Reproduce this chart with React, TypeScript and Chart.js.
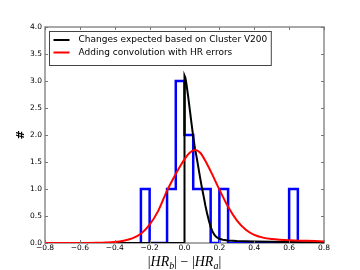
import React, { useEffect, useRef } from "react";
import { Chart, registerables } from "chart.js";

Chart.register(...registerables);

// Histogram (step outline): bin edges and counts
const histEdges = [-0.25, -0.2, -0.15, -0.1, -0.05, 0, 0.05, 0.1, 0.15, 0.2, 0.25, 0.3, 0.35, 0.4, 0.45, 0.5, 0.55, 0.6, 0.65];
const histCounts = [1, 0, 0, 1, 3, 2, 1, 1, 0, 1, 0, 0, 0, 0, 0, 0, 0, 1];

// Black curve: changes expected based on Cluster V200
const blackX = [-0.8, -0.4, 0, 0, 0.005, 0.01, 0.02, 0.03, 0.04, 0.05, 0.06, 0.07, 0.08, 0.09, 0.1, 0.11, 0.12, 0.13, 0.14, 0.15, 0.16, 0.17, 0.18, 0.19, 0.2, 0.22, 0.25, 0.3, 0.4, 0.5, 0.6, 0.7, 0.8];
const blackY = [0, 0, 0, 3.1, 3.06, 2.97, 2.74, 2.48, 2.22, 1.97, 1.75, 1.58, 1.39, 1.2, 1.02, 0.86, 0.69, 0.54, 0.41, 0.3, 0.22, 0.16, 0.12, 0.095, 0.078, 0.06, 0.045, 0.035, 0.026, 0.021, 0.017, 0.014, 0.012];

// Red curve: adding convolution with HR errors
const redX = [-0.8, -0.6, -0.5, -0.45, -0.4, -0.35, -0.3, -0.25, -0.2, -0.15, -0.1, -0.05, -0.02, 0, 0.03, 0.06, 0.09, 0.12, 0.15, 0.2, 0.25, 0.3, 0.35, 0.4, 0.45, 0.5, 0.6, 0.7, 0.8];
const redY = [0, 0.001, 0.004, 0.009, 0.019, 0.042, 0.085, 0.17, 0.34, 0.6, 0.97, 1.28, 1.45, 1.55, 1.67, 1.72, 1.67, 1.52, 1.33, 0.99, 0.67, 0.42, 0.25, 0.15, 0.1, 0.075, 0.05, 0.04, 0.03];

const labels = ["Changes expected based on Cluster V200", "Adding convolution with HR errors"];
const xTicks = [-0.8, -0.6, -0.4, -0.2, 0, 0.2, 0.4, 0.6, 0.8];
const yTicks = [0, 0.5, 1, 1.5, 2, 2.5, 3, 3.5, 4];

const TICK_FONT = "DejaVu Sans";

function fmt(v: number) {
  const n = Math.abs(v) < 1e-9 ? 0 : v;
  return n.toFixed(1).replace("-", "\u2212");
}

const decorPlugin = {
  id: "decor",
  beforeDatasetsDraw(chart: any) {
    const { ctx, chartArea } = chart;
    const { left, right, top, bottom } = chartArea;
    ctx.save();
    ctx.strokeStyle = "#8c8c8c";
    ctx.lineWidth = 1.5;
    ctx.strokeRect(left, top, right - left, bottom - top);
    ctx.restore();
  },
  afterDraw(chart: any) {
    const { ctx, chartArea, scales } = chart;
    const { left, right, top, bottom } = chartArea;
    const xs = scales.x;
    const ys = scales.y;
    ctx.save();
    // inward ticks on all four sides
    ctx.strokeStyle = "#777";
    ctx.lineWidth = 1;
    const tl = 3;
    xs.ticks.forEach((t: any) => {
      const px = Math.round(xs.getPixelForValue(t.value)) + 0.5;
      ctx.beginPath();
      ctx.moveTo(px, bottom);
      ctx.lineTo(px, bottom - tl);
      ctx.moveTo(px, top);
      ctx.lineTo(px, top + tl);
      ctx.stroke();
    });
    ys.ticks.forEach((t: any) => {
      const py = Math.round(ys.getPixelForValue(t.value)) + 0.5;
      ctx.beginPath();
      ctx.moveTo(left, py);
      ctx.lineTo(left + tl, py);
      ctx.moveTo(right, py);
      ctx.lineTo(right - tl, py);
      ctx.stroke();
    });

    // legend box (in the order of the labels list)
    const ds = labels
      .map((l) => chart.data.datasets.find((d: any) => d.label === l))
      .filter((d: any) => d);
    ctx.font = `9px "DejaVu Sans"`;
    let maxW = 0;
    ds.forEach((d: any) => {
      maxW = Math.max(maxW, ctx.measureText(d.label).width);
    });
    const bx = left + 4.5;
    const by = top + 4.5;
    const lineX0 = bx + 4;
    const lineX1 = bx + 20;
    const textX = bx + 29;
    const rowH = 12.5;
    const bw = textX - bx + maxW + 4;
    const bh = 8 + rowH * ds.length + 1;
    ctx.fillStyle = "#fff";
    ctx.fillRect(bx, by, bw, bh);
    ctx.strokeStyle = "#444";
    ctx.lineWidth = 1;
    ctx.strokeRect(bx, by, bw, bh);
    ds.forEach((d: any, i: number) => {
      const yy = by + 8.5 + i * rowH;
      ctx.strokeStyle = d.borderColor;
      ctx.lineWidth = 2;
      ctx.beginPath();
      ctx.moveTo(lineX0, yy);
      ctx.lineTo(lineX1, yy);
      ctx.stroke();
      ctx.fillStyle = "#000";
      ctx.textBaseline = "middle";
      ctx.textAlign = "left";
      ctx.fillText(d.label, textX, yy);
    });

    // y title "#"
    ctx.save();
    ctx.translate(21, (top + bottom) / 2);
    ctx.rotate(-Math.PI / 2);
    ctx.font = `bold 11px "DejaVu Sans"`;
    ctx.textAlign = "center";
    ctx.textBaseline = "middle";
    ctx.fillStyle = "#000";
    ctx.fillText("#", 0, 0);
    ctx.restore();

    // x title |HR_b| − |HR_a| (mathtext style)
    const main = 14;
    const sub = 10;
    const parts: [string, string, boolean][] = [
      ["|", `${main}px "Liberation Serif"`, false],
      ["HR", `italic ${main}px "Liberation Serif"`, false],
      ["b", `italic ${sub}px "Liberation Serif"`, true],
      ["|", `${main}px "Liberation Serif"`, false],
      [" \u2212 ", `${main}px "Liberation Serif"`, false],
      ["|", `${main}px "Liberation Serif"`, false],
      ["HR", `italic ${main}px "Liberation Serif"`, false],
      ["a", `italic ${sub}px "Liberation Serif"`, true],
      ["|", `${main}px "Liberation Serif"`, false],
    ];
    let total = 0;
    const widths = parts.map(([s, f]) => {
      ctx.font = f;
      const w = ctx.measureText(s).width;
      total += w;
      return w;
    });
    let cx = (left + right) / 2 - total / 2;
    const baseY = 266;
    ctx.fillStyle = "#000";
    ctx.textAlign = "left";
    ctx.textBaseline = "alphabetic";
    parts.forEach(([s, f, isSub], i) => {
      ctx.font = f;
      ctx.fillText(s, cx, isSub ? baseY + 3 : baseY);
      cx += widths[i];
    });
    ctx.restore();
  },
};

export default function App() {
  const ref = useRef<HTMLCanvasElement | null>(null);

  useEffect(() => {
    if (!ref.current) return;
    const histPts: { x: number; y: number }[] = [{ x: histEdges[0], y: 0 }];
    histCounts.forEach((c, i) => {
      histPts.push({ x: histEdges[i], y: c });
      histPts.push({ x: histEdges[i + 1], y: c });
    });
    histPts.push({ x: histEdges[histEdges.length - 1], y: 0 });

    const chart = new Chart(ref.current, {
      type: "line",
      data: {
        datasets: [
          {
            label: labels[1],
            data: redX.map((x, i) => ({ x, y: redY[i] })),
            borderColor: "rgb(255,0,0)",
            borderWidth: 2,
            pointRadius: 0,
            cubicInterpolationMode: "monotone",
            fill: false,
          },
          {
            label: labels[0],
            data: blackX.map((x, i) => ({ x, y: blackY[i] })),
            borderColor: "#000",
            borderWidth: 2,
            pointRadius: 0,
            tension: 0,
            fill: false,
          },
          {
            label: "",
            data: histPts,
            borderColor: "rgb(0,0,255)",
            borderWidth: 2.5,
            borderJoinStyle: "miter",
            pointRadius: 0,
            tension: 0,
            fill: false,
          },
        ],
      },
      options: {
        animation: false,
        responsive: false,
        devicePixelRatio: 1,
        layout: { padding: { top: 27, right: 36, left: 0, bottom: 0 } },
        plugins: {
          legend: { display: false },
          tooltip: { enabled: false },
        },
        scales: {
          x: {
            type: "linear",
            min: -0.8,
            max: 0.8,
            afterBuildTicks: (s: any) => {
              s.ticks = xTicks.map((v) => ({ value: v }));
            },
            afterFit: (s: any) => {
              s.height = 27;
            },
            ticks: {
              autoSkip: false,
              maxRotation: 0,
              padding: 1,
              color: "#000",
              font: { family: TICK_FONT, size: 7.5 },
              callback: (v: any) => fmt(Number(v)),
            },
            grid: { display: false, drawTicks: false },
            border: { display: false },
          },
          y: {
            type: "linear",
            min: 0,
            max: 4,
            afterBuildTicks: (s: any) => {
              s.ticks = yTicks.map((v) => ({ value: v }));
            },
            afterFit: (s: any) => {
              s.width = 45;
            },
            ticks: {
              padding: 3,
              color: "#000",
              font: { family: TICK_FONT, size: 7.5 },
              callback: (v: any) => fmt(Number(v)),
            },
            grid: { display: false, drawTicks: false },
            border: { display: false },
          },
        },
      },
      plugins: [decorPlugin],
    } as any);
    return () => chart.destroy();
  }, []);

  return (
    <div style={{ position: "absolute", left: 0, top: 0, width: 360, height: 270, background: "#fff" }}>
      <canvas ref={ref} width={360} height={270} style={{ display: "block" }} />
    </div>
  );
}
